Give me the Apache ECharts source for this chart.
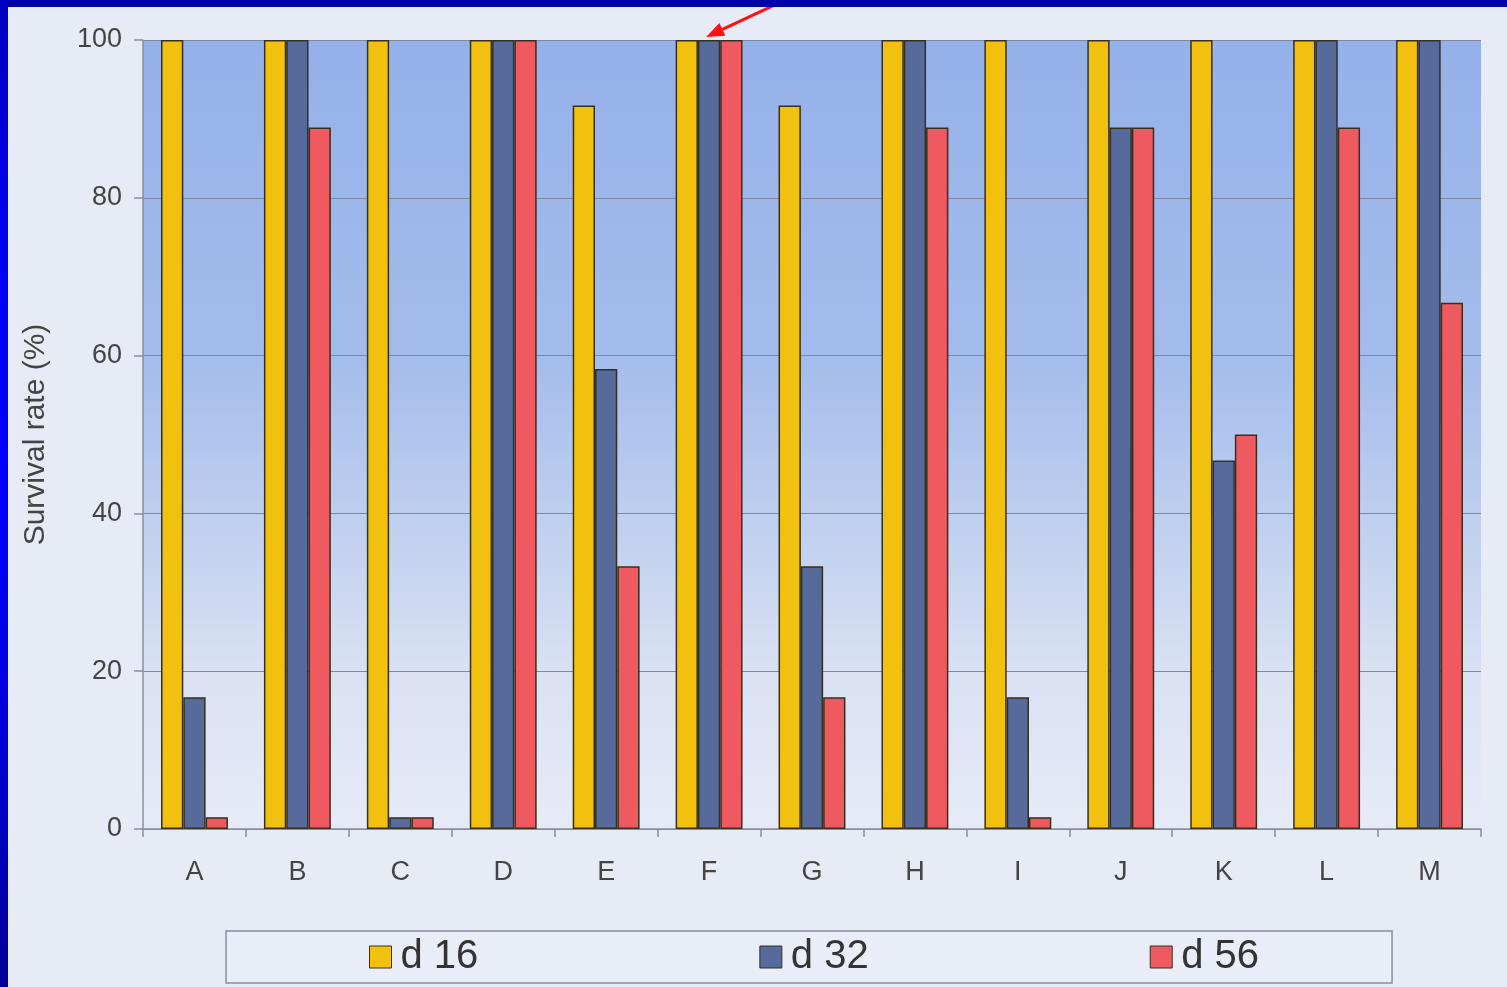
<!DOCTYPE html>
<html>
<head>
<meta charset="utf-8">
<script src="https://cdn.jsdelivr.net/npm/echarts@6/dist/echarts.min.js"></script>
<style>
  html, body { margin: 0; padding: 0; width: 1507px; height: 987px; overflow: hidden; background: #e7ebf5; }
  #frameTop { position: absolute; left: 0; top: 0; width: 1507px; height: 7px; background: #0000a8; z-index: 2; }
  #frameLeft { position: absolute; left: 0; top: 0; width: 8px; height: 987px; z-index: 2;
    background: linear-gradient(to bottom, #0000c0 0%, #0000f0 25%, #0000ff 50%, #0000d8 75%, #000098 100%); }
  #chart { position: absolute; left: 0; top: 0; width: 1507px; height: 987px; }
</style>
</head>
<body>
<div id="frameTop"></div>
<div id="frameLeft"></div>
<div id="chart"></div>
<script>
// Survival rate per group at three time points
const groups = ['A', 'B', 'C', 'D', 'E', 'F', 'G', 'H', 'I', 'J', 'K', 'L', 'M'];
const day16 = [100, 100, 100, 100, 91.7, 100, 91.7, 100, 100, 100, 100, 100, 100];
const day32 = [16.7, 100, 1.5, 100, 58.3, 100, 33.3, 100, 16.7, 88.9, 46.7, 100, 100];
const day56 = [1.5, 88.9, 1.5, 100, 33.3, 100, 16.7, 88.9, 1.5, 88.9, 50, 88.9, 66.7];
const seriesNames = ['d 16', 'd 32', 'd 56'];
const yTicks = [0, 20, 40, 60, 80, 100];
// group and value the arrow points at
const arrowTarget = ['F', 100];

const colors = ['#f2c10f', '#566a9c', '#ee5a60'];
const font = 'Liberation Sans, Arial, sans-serif';

const chart = echarts.init(document.getElementById('chart'), null, { renderer: 'canvas' });

function barSeries(name, data, color) {
  return {
    name: name,
    type: 'bar',
    data: data,
    barGap: '0%',
    barCategoryGap: '35%',
    itemStyle: { color: color, borderColor: '#35301f', borderWidth: 1.5 }
  };
}

chart.setOption({
  backgroundColor: 'transparent',
  animation: false,
  color: colors,
  grid: {
    left: 143, right: 26, top: 40, bottom: 158,
    show: true,
    borderWidth: 0,
    backgroundColor: new echarts.graphic.LinearGradient(0, 0, 0, 1, [
      { offset: 0, color: '#95b1e9' },
      { offset: 0.4, color: '#a4bcec' },
      { offset: 0.62, color: '#c0d0ef' },
      { offset: 0.8, color: '#d9e1f3' },
      { offset: 1, color: '#e6ebf7' }
    ])
  },
  legend: {
    data: seriesNames,
    left: 226,
    top: 931,
    orient: 'horizontal',
    padding: [6, 133, 6, 143],
    itemGap: 281,
    itemWidth: 22,
    itemHeight: 22,
    icon: 'rect',
    borderColor: '#8a8f9c',
    borderWidth: 1.5,
    backgroundColor: '#e9edf7',
    textStyle: { fontFamily: font, fontSize: 40, color: '#333', padding: [0, 0, 0, 4] },
    itemStyle: { borderColor: '#35301f', borderWidth: 1 }
  },
  xAxis: {
    type: 'category',
    data: groups,
    axisLine: { lineStyle: { color: '#8a8f9c', width: 1.5 } },
    axisTick: { show: true, length: 8, lineStyle: { color: '#8a8f9c', width: 1.5 } },
    axisLabel: { fontFamily: font, fontSize: 27, color: '#444', margin: 30 }
  },
  yAxis: {
    type: 'value',
    min: yTicks[0],
    max: yTicks[yTicks.length - 1],
    interval: yTicks[1] - yTicks[0],
    name: 'Survival rate (%)',
    nameLocation: 'middle',
    nameGap: 92,
    nameRotate: 90,
    nameTextStyle: { fontFamily: font, fontSize: 30, color: '#444' },
    axisLine: { show: true, lineStyle: { color: '#8a8f9c', width: 1.5 } },
    axisTick: { show: true, length: 9, lineStyle: { color: '#8a8f9c', width: 1.5 } },
    axisLabel: { fontFamily: font, fontSize: 27, color: '#444', margin: 21 },
    splitLine: { show: true, lineStyle: { color: '#7c88a6', width: 1.2 } }
  },
  series: [
    barSeries(seriesNames[0], day16, colors[0]),
    barSeries(seriesNames[1], day32, colors[1]),
    barSeries(seriesNames[2], day56, colors[2])
  ]
});

// Red pointer arrow aimed at the top of the selected bar
function drawArrow() {
  const tip = chart.convertToPixel({ seriesIndex: 1 }, arrowTarget);
  const tx = tip[0] - 3, ty = tip[1] - 3;
  const sx = tx + 90, sy = ty - 42;
  const dx = sx - tx, dy = sy - ty;
  const len = Math.sqrt(dx * dx + dy * dy);
  const ux = dx / len, uy = dy / len;
  const headLen = 18, headHalf = 7;
  const bx = tx + ux * headLen, by = ty + uy * headLen;
  chart.setOption({
    graphic: [
      {
        type: 'line', z: 100,
        shape: { x1: bx, y1: by, x2: sx, y2: sy },
        style: { stroke: '#ff1010', lineWidth: 3 }
      },
      {
        type: 'polygon', z: 100,
        shape: { points: [[tx, ty], [bx - uy * headHalf, by + ux * headHalf], [bx + uy * headHalf, by - ux * headHalf]] },
        style: { fill: '#ff1010' }
      }
    ]
  });
}
drawArrow();
</script>
</body>
</html>
